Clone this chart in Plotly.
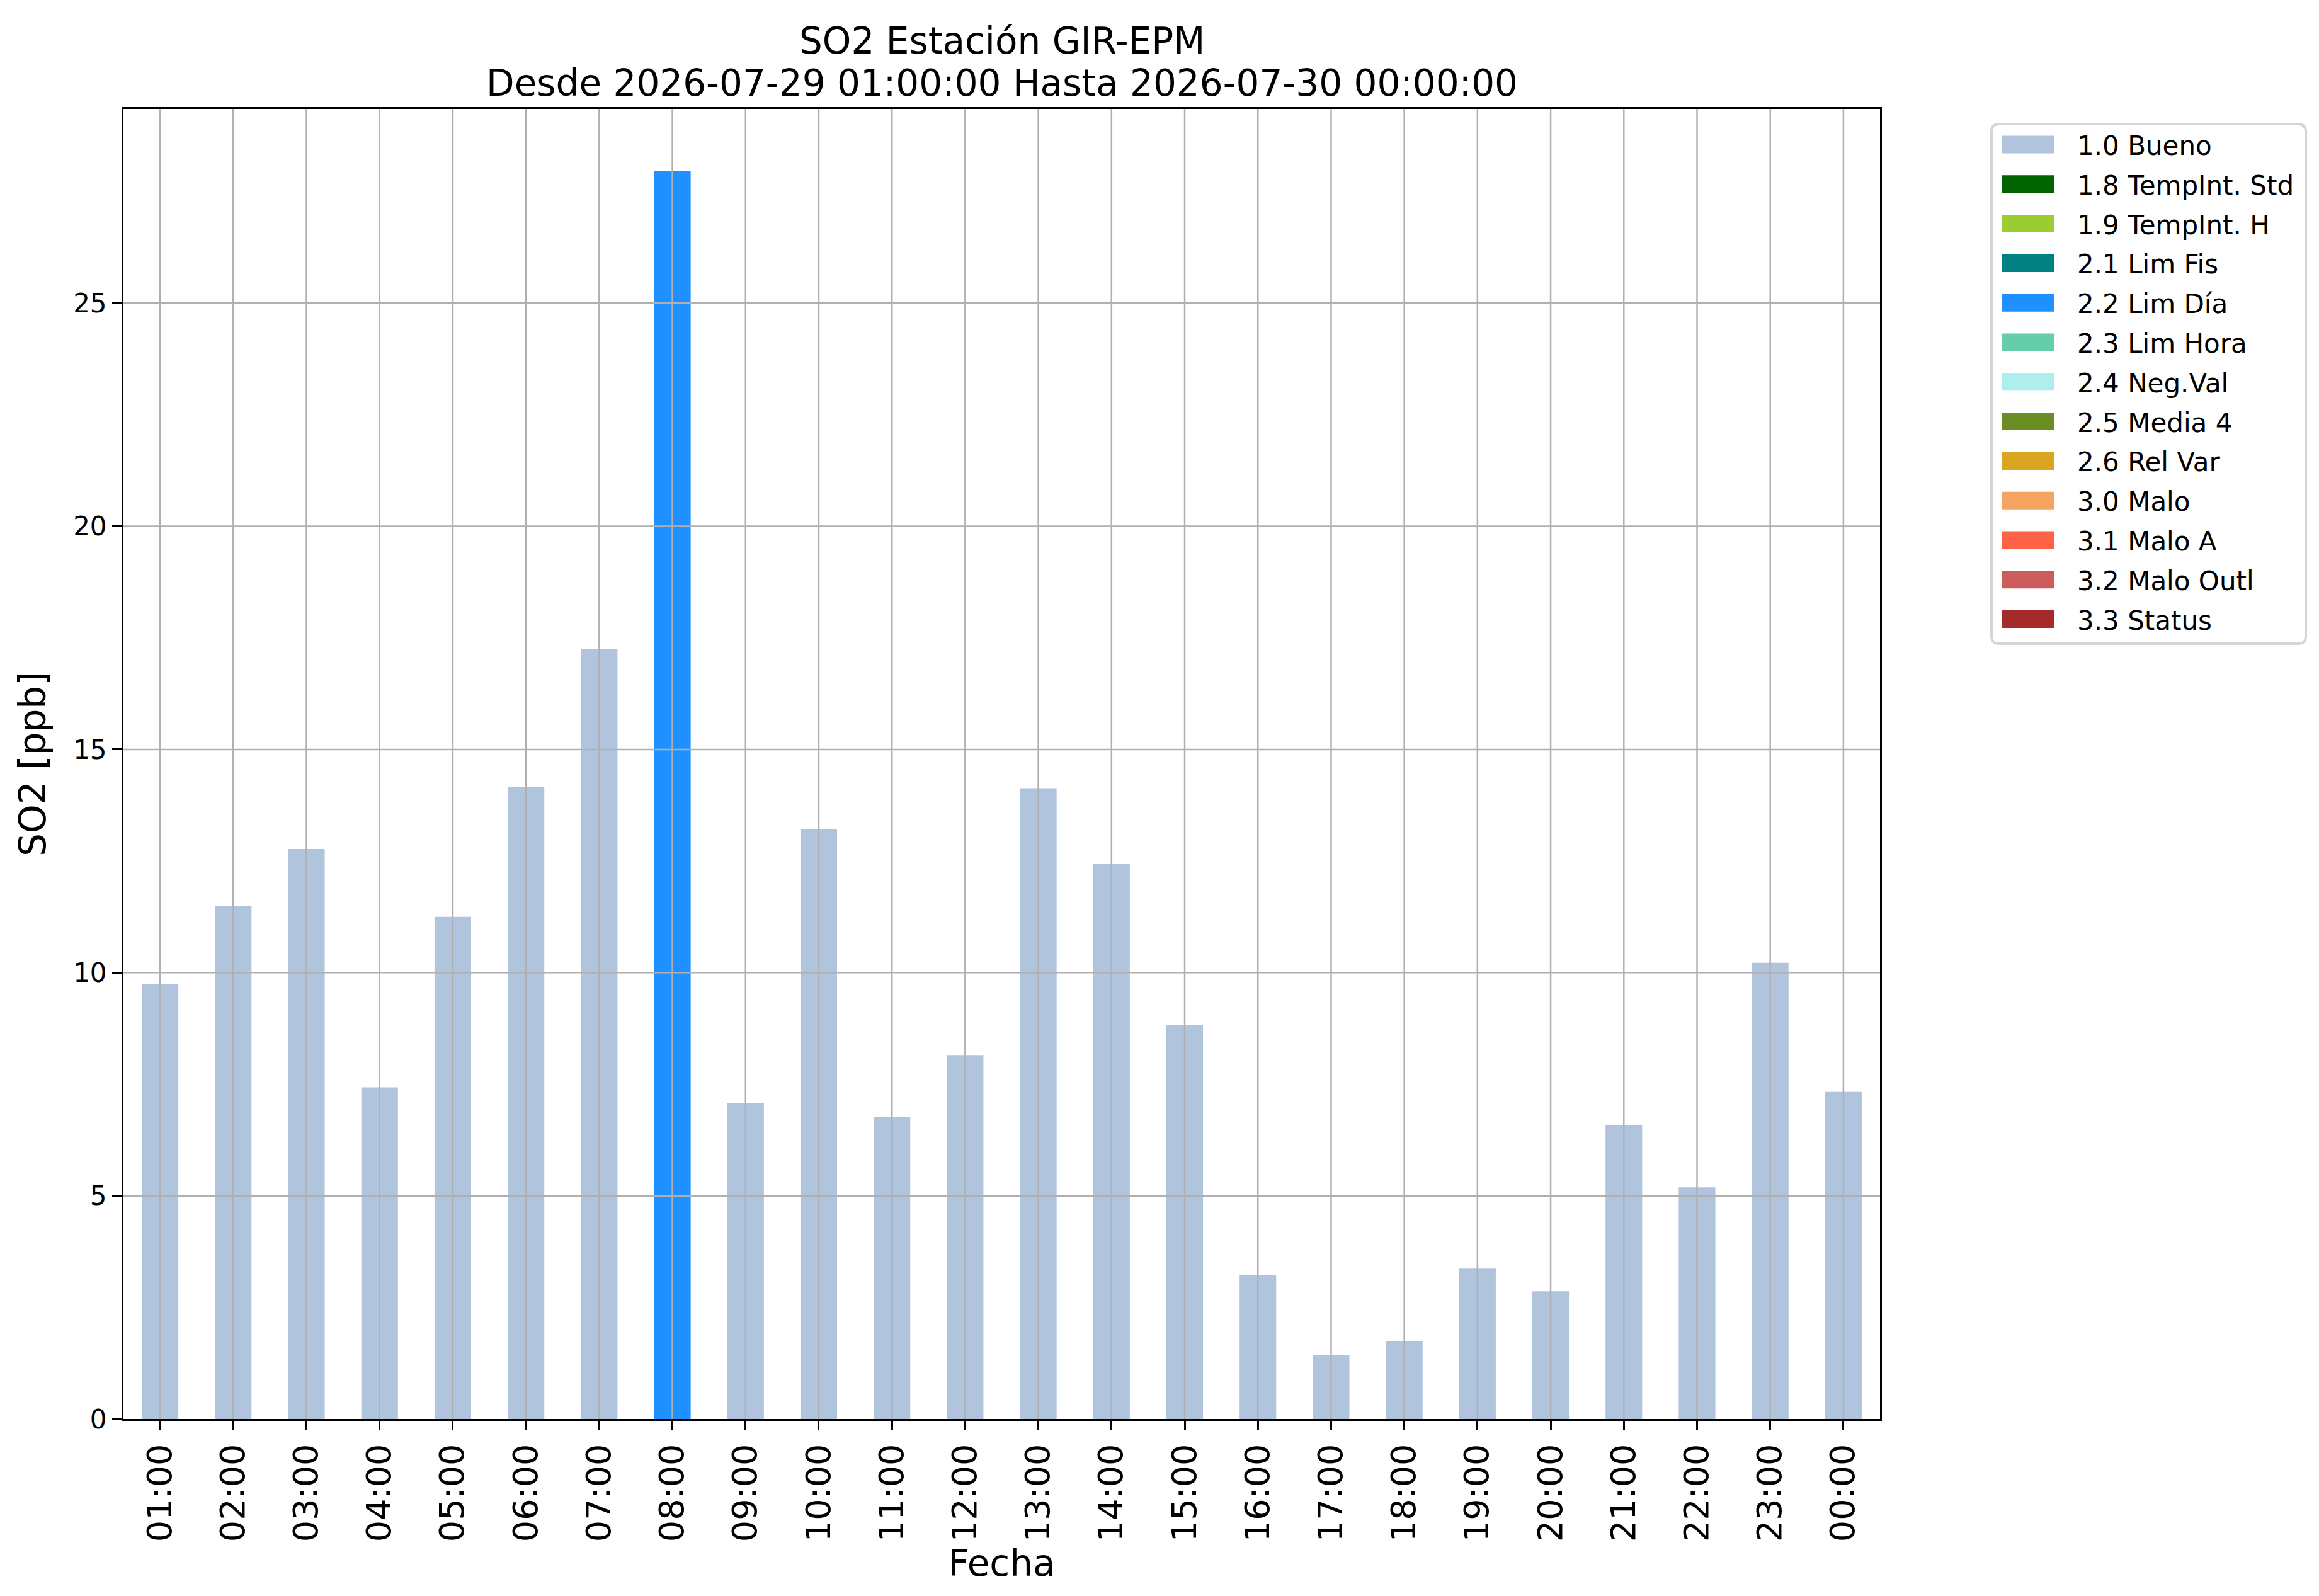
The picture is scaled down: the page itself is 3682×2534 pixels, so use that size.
import plotly.graph_objects as go

# hourly SO2 values
hours = ["01:00", "02:00", "03:00", "04:00", "05:00", "06:00", "07:00", "08:00",
         "09:00", "10:00", "11:00", "12:00", "13:00", "14:00", "15:00", "16:00",
         "17:00", "18:00", "19:00", "20:00", "21:00", "22:00", "23:00", "00:00"]
so2 = [9.74, 11.49, 12.77, 7.43, 11.25, 14.15, 17.24, 27.95,
       7.08, 13.21, 6.77, 8.15, 14.13, 12.44, 8.83, 3.23,
       1.44, 1.75, 3.37, 2.86, 6.59, 5.19, 10.22, 7.34]
flags = ["1.0 Bueno", "1.0 Bueno", "1.0 Bueno", "1.0 Bueno", "1.0 Bueno", "1.0 Bueno",
         "1.0 Bueno", "2.2 Lim Día", "1.0 Bueno", "1.0 Bueno", "1.0 Bueno", "1.0 Bueno",
         "1.0 Bueno", "1.0 Bueno", "1.0 Bueno", "1.0 Bueno", "1.0 Bueno", "1.0 Bueno",
         "1.0 Bueno", "1.0 Bueno", "1.0 Bueno", "1.0 Bueno", "1.0 Bueno", "1.0 Bueno"]

# flag categories and their colours (legend order)
flag_labels = ["1.0 Bueno", "1.8 TempInt. Std", "1.9 TempInt. H", "2.1 Lim Fis",
               "2.2 Lim Día", "2.3 Lim Hora", "2.4 Neg.Val", "2.5 Media 4",
               "2.6 Rel Var", "3.0 Malo", "3.1 Malo A", "3.2 Malo Outl", "3.3 Status"]
flag_colors = ["#B0C4DE", "#006400", "#9ACD32", "#008080",
               "#1E90FF", "#66CDAA", "#AFEEEE", "#6B8E23",
               "#DAA520", "#F4A460", "#FF6347", "#CD5C5C", "#A52A2A"]

yticks = [0, 5, 10, 15, 20, 25]
title_lines = ["SO2 Estación GIR-EPM",
               "Desde 2026-07-29 01:00:00 Hasta 2026-07-30 00:00:00"]

# figure geometry in pixels
W_FIG, H_FIG = 3682, 2534
L, R, T, B = 188, 705, 165, 289
PW = W_FIG - L - R
PH = H_FIG - T - B
FONT = "DejaVu Sans"
GRID = "#b0b0b0"


def fx(p):
    return (p - L) / PW


def fy(p):
    return (H_FIG - B - p) / PH


fig = go.Figure()

for lab, col in zip(flag_labels, flag_colors):
    yy = [v if f == lab else None for v, f in zip(so2, flags)]
    fig.add_trace(go.Bar(x=hours, y=yy, name=lab, width=0.5,
                         marker=dict(color=col, line=dict(width=0)),
                         showlegend=False))

shapes = []
# grid drawn over the bars, like matplotlib does here
for i in range(len(hours)):
    shapes.append(dict(type="line", xref="x", yref="paper", x0=i, x1=i, y0=0, y1=1,
                       line=dict(color=GRID, width=2.5), layer="above"))
for v in yticks[1:]:
    shapes.append(dict(type="line", xref="paper", yref="y", x0=0, x1=1, y0=v, y1=v,
                       line=dict(color=GRID, width=2.5), layer="above"))

# legend box (rounded)
bx0, bx1, by0, by1, rr = 3154, 3653, 189, 1014, 12
pts = [
    ("M", bx0 + rr, by0), ("L", bx1 - rr, by0), ("Q", bx1, by0, bx1, by0 + rr),
    ("L", bx1, by1 - rr), ("Q", bx1, by1, bx1 - rr, by1),
    ("L", bx0 + rr, by1), ("Q", bx0, by1, bx0, by1 - rr),
    ("L", bx0, by0 + rr), ("Q", bx0, by0, bx0 + rr, by0),
]
path = ""
for p in pts:
    if p[0] == "Q":
        path += "Q%.5f,%.5f %.5f,%.5f " % (fx(p[1]), fy(p[2]), fx(p[3]), fy(p[4]))
    else:
        path += "%s%.5f,%.5f " % (p[0], fx(p[1]), fy(p[2]))
path += "Z"
shapes.append(dict(type="path", xref="paper", yref="paper", path=path,
                   fillcolor="rgba(255,255,255,0.8)",
                   line=dict(color="#d5d5d5", width=4), layer="above"))

annotations = []
row0, row_step = 221.5, 62.8
for k, (lab, col) in enumerate(zip(flag_labels, flag_colors)):
    yc = row0 + k * row_step
    shapes.append(dict(type="rect", xref="paper", yref="paper",
                       x0=fx(3170), x1=fx(3254), y0=fy(yc - 14), y1=fy(yc + 14),
                       fillcolor=col, line=dict(width=0), layer="above"))
    annotations.append(dict(text=lab, xref="paper", yref="paper", x=fx(3288), y=fy(yc + 2),
                            xanchor="left", yanchor="middle", showarrow=False,
                            font=dict(family=FONT, size=42, color="black")))

# two-line title, centred over the axes
for line, yc in zip(title_lines, [57, 124]):
    annotations.append(dict(text=line, xref="paper", yref="paper", x=0.5, y=fy(yc),
                            xanchor="center", yanchor="middle", showarrow=False,
                            font=dict(family=FONT, size=58, color="black")))

fig.update_layout(
    width=W_FIG, height=H_FIG,
    margin=dict(l=L, r=R, t=T, b=B),
    barmode="overlay",
    plot_bgcolor="white", paper_bgcolor="white",
    font=dict(family=FONT, color="black"),
    shapes=shapes,
    annotations=annotations,
    showlegend=False,
)

fig.update_xaxes(
    type="category", range=[-0.5, len(hours) - 0.5],
    showgrid=False, showline=True, mirror=True, linecolor="black", linewidth=3,
    ticks="outside", ticklen=15, tickwidth=3, tickcolor="black",
    tickangle=-90, tickfont=dict(family=FONT, size=54, color="black"),
    title=dict(text="Fecha", font=dict(family=FONT, size=58, color="black"), standoff=4),
)
fig.update_yaxes(
    range=[0, max(so2) * 1.05], tickvals=yticks,
    showgrid=False, zeroline=False, showline=True, mirror=True, linecolor="black", linewidth=3,
    ticks="outside", ticklen=15, tickwidth=3, tickcolor="black",
    tickfont=dict(family=FONT, size=42, color="black"),
    title=dict(text="SO2 [ppb]", font=dict(family=FONT, size=58, color="black"), standoff=25),
)

fig.write_html("out.html")
